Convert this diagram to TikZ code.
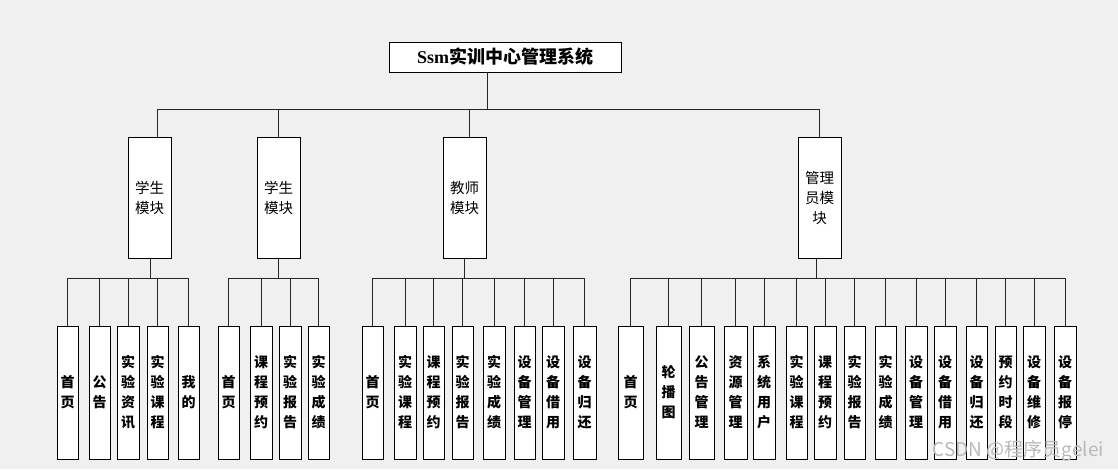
\documentclass[tikz,border=0pt]{standalone}
\usepackage{fontspec}
\setmainfont{Liberation Serif}
\newfontfamily\cjk{Noto Sans CJK SC}
\definecolor{bgc}{RGB}{240,240,240}
\definecolor{wmc}{RGB}{185,185,185}
\tikzset{
  box/.style={draw=black, fill=white, line width=0.8pt, inner sep=0pt, align=center},
  leaf/.style={box, minimum height=133pt, font=\cjk\bfseries\fontsize{14}{20}\selectfont},
  module/.style={box, minimum width=43pt, minimum height=121pt, font=\cjk\fontsize{14.5}{20}\selectfont},
  wire/.style={draw=black!85, line width=0.8pt},
}
\begin{document}
\begin{tikzpicture}[x=1pt,y=-1pt]
\fill[bgc] (0,0) rectangle (1118,469);
\useasboundingbox (0,0) rectangle (1118,469);

% title
\node[box, minimum width=232pt, minimum height=30pt, font=\fontsize{18}{20}\selectfont] (title) at (505,57)
  {\bfseries Ssm{\cjk\bfseries 实训中心管理系统}};

% modules
\node[module] (m1) at (149.5,197.5) {学生\\模块};
\node[module] (m2) at (278.5,197.5) {学生\\模块};
\node[module] (m3) at (464.5,197.5) {教师\\模块};
\node[module] (m4) at (819.5,197.5) {管理\\员模\\块};

% top bus
\coordinate (tb) at (487,109);
\draw[wire] (title.south -| tb) -- (tb);
\draw[wire] ([xshift=7.5pt]m1.north) |- ([xshift=-0.5pt]m4.north |- tb) -- ([xshift=-0.5pt]m4.north);
\draw[wire] ([xshift=-0.5pt]m2.north) -- ([xshift=-0.5pt]m2.north |- tb);
\draw[wire] ([xshift=4.5pt]m3.north) -- ([xshift=4.5pt]m3.north |- tb);

% leaves: student 1
\foreach \x/\w/\t [count=\i] in {67.5/21/{首\\页}, 99.5/21/{公\\告}, 128/22/{实\\验\\资\\讯}, 157.5/21/{实\\验\\课\\程}, 188.5/21/{我\\的}}
  \node[leaf, minimum width=\w pt] (a\i) at (\x,392.5) {\t};
% student 2
\foreach \x/\w/\t [count=\i] in {228.5/21/{首\\页}, 261/22/{课\\程\\预\\约}, 290/22/{实\\验\\报\\告}, 318.5/21/{实\\验\\成\\绩}}
  \node[leaf, minimum width=\w pt] (b\i) at (\x,392.5) {\t};
% teacher
\foreach \x/\w/\t [count=\i] in {372.5/21/{首\\页}, 405/22/{实\\验\\课\\程}, 433.5/21/{课\\程\\预\\约}, 462.5/21/{实\\验\\报\\告}, 494/22/{实\\验\\成\\绩}, 524.5/21/{设\\备\\管\\理}, 553/22/{设\\备\\借\\用}, 584.5/23/{设\\备\\归\\还}}
  \node[leaf, minimum width=\w pt] (c\i) at (\x,392.5) {\t};
% admin
\foreach \x/\w/\t [count=\i] in {630.5/25/{首\\页}, 668.5/25/{轮\\播\\图}, 701.5/25/{公\\告\\管\\理}, 735.5/23/{资\\源\\管\\理}, 764/22/{系\\统\\用\\户}, 796.5/21/{实\\验\\课\\程}, 825/22/{课\\程\\预\\约}, 854.5/21/{实\\验\\报\\告}, 885.5/21/{实\\验\\成\\绩}, 916/22/{设\\备\\管\\理}, 945/22/{设\\备\\借\\用}, 976.5/21/{设\\备\\归\\还}, 1005.5/21/{预\\约\\时\\段}, 1034/22/{设\\备\\维\\修}, 1065/22/{设\\备\\报\\停}}
  \node[leaf, minimum width=\w pt] (d\i) at (\x,392.5) {\t};

% lower buses
\coordinate (ba) at (150,278);
\coordinate (bb) at (278,278);
\coordinate (bc) at (464,278);
\coordinate (bd) at (816,278);
\draw[wire] ([xshift=0.5pt]m1.south) -- ([xshift=0.5pt]m1.south |- ba);
\draw[wire] ([xshift=-0.5pt]m2.south) -- ([xshift=-0.5pt]m2.south |- bb);
\draw[wire] ([xshift=-0.5pt]m3.south) -- ([xshift=-0.5pt]m3.south |- bc);
\draw[wire] ([xshift=-3.5pt]m4.south) -- ([xshift=-3.5pt]m4.south |- bd);

\draw[wire] (a1.north) |- (a5.north |- ba) -- (a5.north);
\foreach \i in {2,3,4} \draw[wire] (a\i.north) -- (a\i.north |- ba);
\draw[wire] (b1.north) |- (b4.north |- bb) -- (b4.north);
\foreach \i in {2,3} \draw[wire] (b\i.north) -- (b\i.north |- bb);
\draw[wire] (c1.north) |- (c8.north |- bc) -- (c8.north);
\foreach \i in {2,...,7} \draw[wire] (c\i.north) -- (c\i.north |- bc);
\draw[wire] (d1.north) |- (d15.north |- bd) -- (d15.north);
\foreach \i in {2,...,14} \draw[wire] (d\i.north) -- (d\i.north |- bd);

% watermark
\node[anchor=east, text=wmc, font=\cjk\fontsize{19}{20}\selectfont, inner sep=0pt] (wm) at (1104,451) {CSDN @程序员gelei};
\end{tikzpicture}
\end{document}
